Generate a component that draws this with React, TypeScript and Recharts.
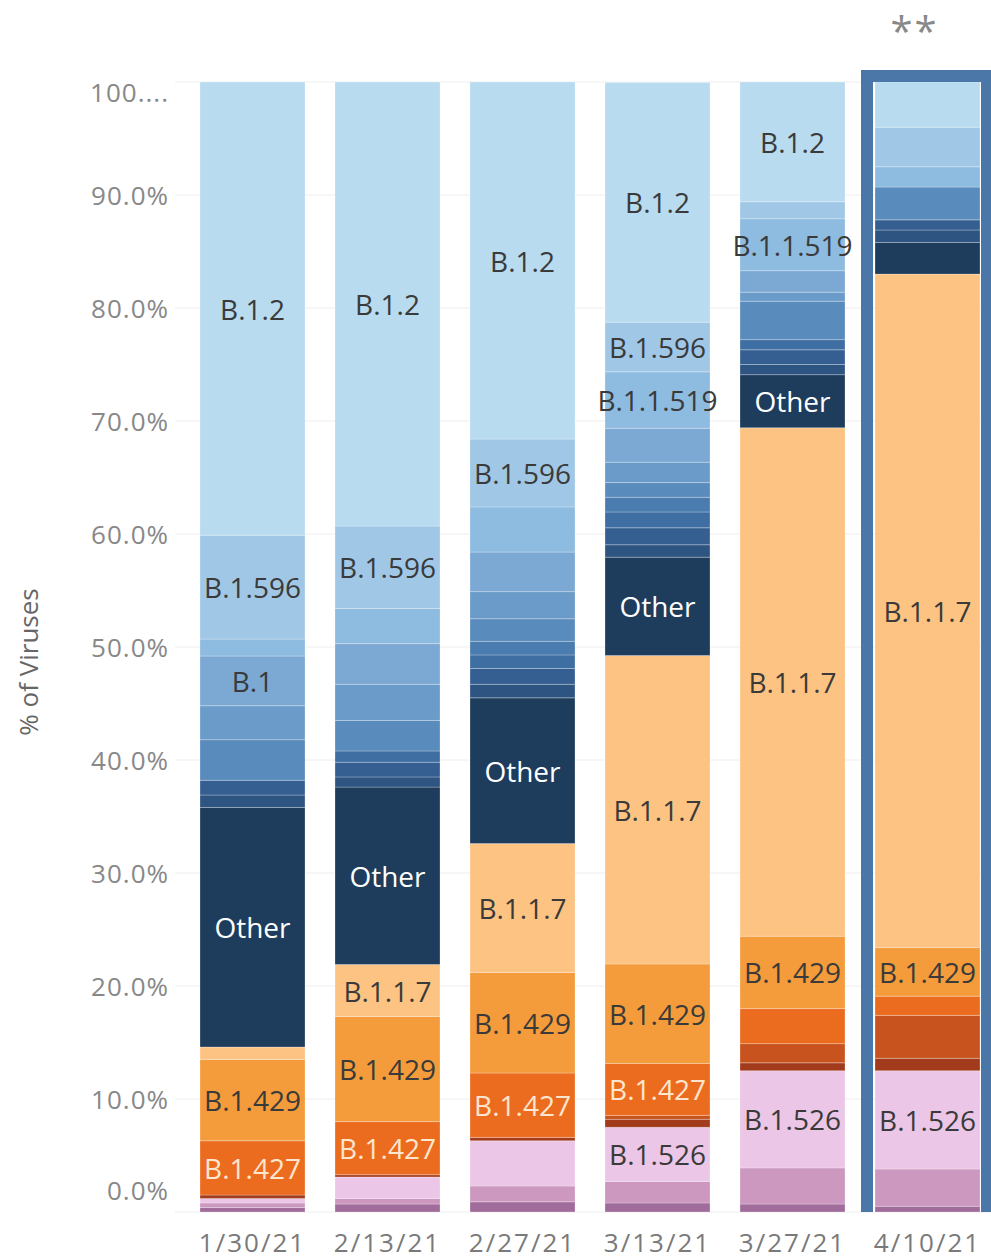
import React from 'react';
import {
  BarChart,
  Bar,
  XAxis,
  YAxis,
  CartesianGrid,
  LabelList,
  ReferenceArea,
} from 'recharts';

const dates = ['1/30/21', '2/13/21', '2/27/21', '3/13/21', '3/27/21', '4/10/21'];
const yTicks = [0, 10, 20, 30, 40, 50, 60, 70, 80, 90, 100];

// stacked bottom -> top, % of viruses per collection period
const purpleDark = [0.4, 0.7, 0.9, 0.8, 0.7, 0.5];
const purpleMid = [0.4, 0.5, 1.4, 1.9, 3.2, 3.3];
const b1526 = [0.4, 1.9, 4.0, 4.8, 8.6, 8.7];
const redDark = [0.3, 0.2, 0.3, 0.7, 0.7, 1.1];
const redMid = [0, 0, 0, 0.35, 1.7, 3.8];
const b1427 = [4.8, 4.7, 5.7, 4.6, 3.1, 1.7];
const b1429 = [7.2, 9.3, 8.9, 8.8, 6.4, 4.3];
const b117 = [1.1, 4.6, 11.4, 27.3, 45.0, 59.6];
const other = [21.2, 15.7, 12.9, 8.7, 4.7, 2.8];
const blue1 = [1.1, 0.9, 1.2, 1.1, 0.9, 1.1];
const blue2 = [1.3, 1.3, 1.4, 1.5, 1.3, 0.9];
const blue3 = [0, 1.0, 1.2, 1.4, 0.9, 0];
const blue4 = [0, 0, 1.2, 1.3, 0, 0];
const blue5 = [3.6, 2.7, 2.0, 1.3, 3.4, 2.9];
const blue6 = [3.0, 3.2, 2.4, 1.8, 0.8, 0];
const b1 = [4.4, 3.6, 3.5, 3.0, 1.9, 0];
const b11519 = [1.5, 3.1, 4.0, 5.0, 4.6, 1.8];
const b1596 = [9.2, 7.3, 6.0, 4.4, 1.5, 3.5];
const b12 = [40.1, 39.3, 31.6, 21.2, 10.6, 4.0];

const series = [
  { key: 'p1', name: '', values: purpleDark, color: '#a06c9b' },
  { key: 'p2', name: '', values: purpleMid, color: '#cc98bf' },
  { key: 'b1526', name: 'B.1.526', values: b1526, color: '#ecc6e6', text: '#3a3a3a' },
  { key: 'r1', name: '', values: redDark, color: '#a23b1c' },
  { key: 'r2', name: '', values: redMid, color: '#c9531f' },
  { key: 'b1427', name: 'B.1.427', values: b1427, color: '#ec6c1f', text: '#fde6cf' },
  { key: 'b1429', name: 'B.1.429', values: b1429, color: '#f49c3b', text: '#3a3a3a' },
  { key: 'b117', name: 'B.1.1.7', values: b117, color: '#fdc383', text: '#3a3a3a' },
  { key: 'other', name: 'Other', values: other, color: '#1e3c5c', text: '#ffffff' },
  { key: 'bl1', name: '', values: blue1, color: '#2e5482' },
  { key: 'bl2', name: '', values: blue2, color: '#365f91' },
  { key: 'bl3', name: '', values: blue3, color: '#3f6ea2' },
  { key: 'bl4', name: '', values: blue4, color: '#4b7cb0' },
  { key: 'bl5', name: '', values: blue5, color: '#5a8bbd' },
  { key: 'bl6', name: '', values: blue6, color: '#6b9bc8' },
  { key: 'b1', name: 'B.1', values: b1, color: '#7ba9d3', text: '#3a3a3a' },
  { key: 'b11519', name: 'B.1.1.519', values: b11519, color: '#8ebbe0', text: '#3a3a3a' },
  { key: 'b1596', name: 'B.1.596', values: b1596, color: '#a0c8e6', text: '#3a3a3a' },
  { key: 'b12', name: 'B.1.2', values: b12, color: '#b8dbf0', text: '#3a3a3a' },
];

const rows = dates.map((date, i) => {
  const row: Record<string, any> = { date };
  series.forEach((s) => {
    row[s.key] = s.values[i];
  });
  return row;
});

const FONT = '"Open Sans", sans-serif';

const makeLabel = (name: string, color: string) => (props: any) => {
  const vb = props.viewBox && props.viewBox.width != null ? props.viewBox : props;
  const x = Number(vb.x);
  const y = Number(vb.y);
  const w = Number(vb.width);
  const h = Number(vb.height);
  if (!(h > 47)) return null;
  return (
    <text
      x={x + w / 2}
      y={y + h / 2}
      textAnchor="middle"
      dominantBaseline="central"
      fill={color}
      fontSize={28}
      fontFamily={FONT}
    >
      {name}
    </text>
  );
};

const YTick = (props: any) => {
  const { x, y, payload } = props;
  const v = payload.value;
  const dy = v === 0 ? -22 : v === 100 ? 10 : 0;
  return (
    <text
      x={x}
      y={y + dy}
      textAnchor="end"
      dominantBaseline="central"
      fill="#888"
      fontSize={26}
      fontFamily={FONT}
      letterSpacing={1}
    >
      {v === 100 ? '100....' : v.toFixed(1) + '%'}
    </text>
  );
};

const Frame = (props: any) => {
  const { x, y, width, height } = props;
  const l = x + 7;
  const r = x + width - 8;
  const t = y - 6;
  const b = y + height;
  return (
    <g>
      <path
        d={`M${l},${b} L${l},${t} L${r},${t} L${r},${b}`}
        fill="none"
        stroke="#4a76a8"
        strokeWidth={12}
      />
      <text
        x={x + width / 2 - 13}
        y={y - 36}
        textAnchor="middle"
        fill="#888"
        fontSize={40}
        fontFamily={FONT}
        letterSpacing={2}
      >
        **
      </text>
    </g>
  );
};

const App = () => {
  return (
    <div
      style={{
        position: 'absolute',
        left: 0,
        top: 0,
        width: 991,
        height: 1259,
        overflow: 'hidden',
        background: '#fff',
      }}
    >
      <BarChart
        width={1000}
        height={1259}
        data={rows}
        margin={{ top: 82, right: 5, bottom: 0, left: 0 }}
      >
        <CartesianGrid vertical={false} stroke="#eeeeee" />
        <XAxis
          dataKey="date"
          axisLine={false}
          tickLine={false}
          tickSize={0}
          tickMargin={22}
          height={47}
          interval={0}
          padding={{ left: 10, right: 0 }}
          tick={{ fill: '#7a7a7a', fontSize: 26, fontFamily: FONT, letterSpacing: 2 }}
        />
        <YAxis
          width={175}
          domain={[0, 100]}
          allowDataOverflow
          ticks={yTicks}
          interval={0}
          axisLine={false}
          tickLine={false}
          tickSize={0}
          tickMargin={6}
          tick={<YTick />}
          label={{
            content: () => (
              <text
                x={28}
                y={662}
                transform="rotate(-90, 28, 662)"
                textAnchor="middle"
                dominantBaseline="central"
                fill="#666"
                fontSize={26}
                fontFamily={FONT}
              >
                % of Viruses
              </text>
            ),
          }}
        />
        {series.map((s) => (
          <Bar
            key={s.key}
            dataKey={s.key}
            stackId="a"
            fill={s.color}
            stroke="#ffffff"
            strokeOpacity={0.25}
            strokeWidth={1}
            barSize={105}
            isAnimationActive={false}
          >
            {s.name ? (
              <LabelList dataKey={s.key} content={makeLabel(s.name, s.text || '#333')} />
            ) : null}
          </Bar>
        ))}
        <ReferenceArea x1="4/10/21" x2="4/10/21" ifOverflow="visible" shape={<Frame />} />
      </BarChart>
    </div>
  );
};

export default App;
